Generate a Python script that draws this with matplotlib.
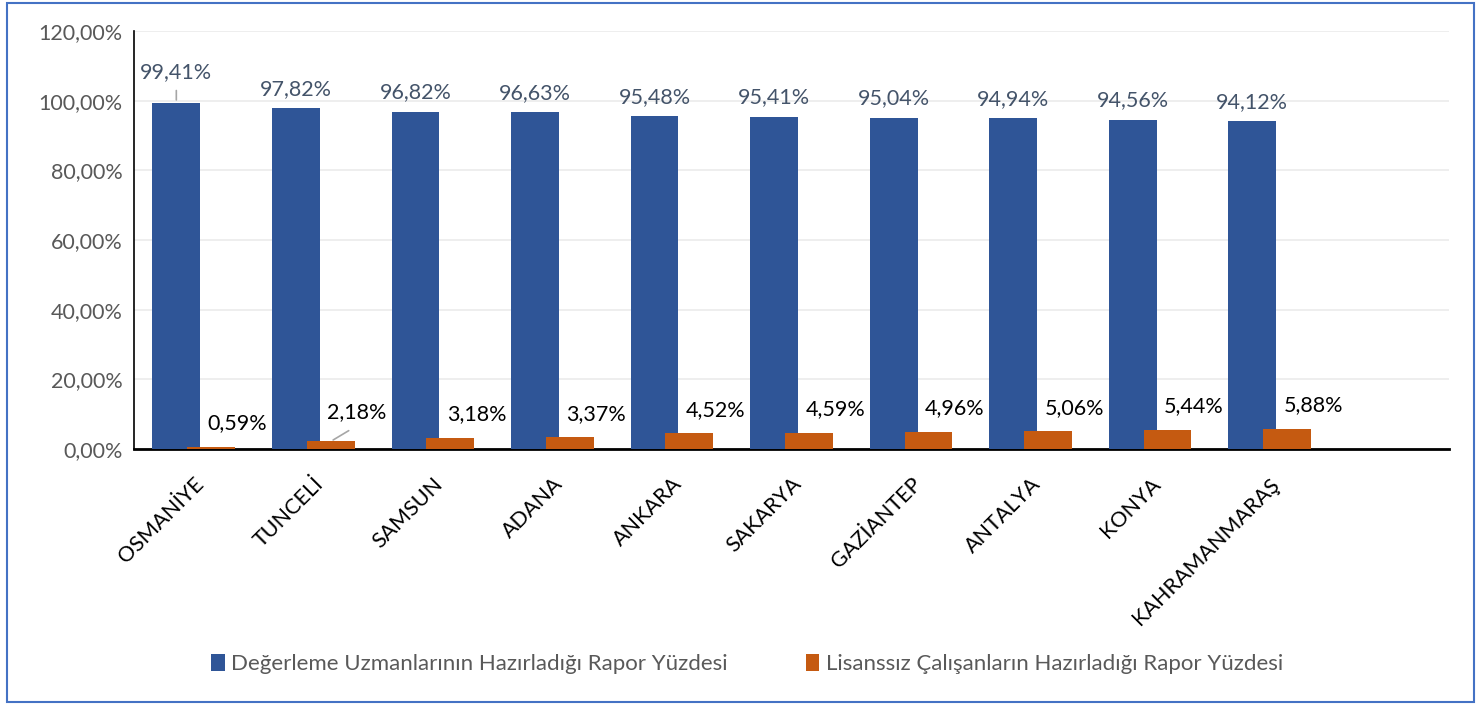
import matplotlib
matplotlib.use("Agg")
import matplotlib.pyplot as plt
from matplotlib.ticker import FuncFormatter
from matplotlib.patches import Rectangle
import numpy as np

plt.rcParams['font.family'] = ['Lato', 'DejaVu Sans']

cities = ["OSMANİYE", "TUNCELİ", "SAMSUN", "ADANA", "ANKARA", "SAKARYA",
          "GAZİANTEP", "ANTALYA", "KONYA", "KAHRAMANMARAŞ"]
uzman = [99.41, 97.82, 96.82, 96.63, 95.48, 95.41, 95.04, 94.94, 94.56, 94.12]
lisanssiz = [0.59, 2.18, 3.18, 3.37, 4.52, 4.59, 4.96, 5.06, 5.44, 5.88]
y_ticks = [0, 20, 40, 60, 80, 100, 120]

label_uzman = "Değerleme Uzmanlarının Hazırladığı Rapor Yüzdesi"
label_lis = "Lisanssız Çalışanların Hazırladığı Rapor Yüzdesi"

BLUE = "#2F5597"
ORANGE = "#C55A11"
GRAY = "#595959"
SLATE = "#44546A"


def pct(v):
    return f"{v:.2f}%".replace(".", ",")


fig = plt.figure(figsize=(14.77, 7.05), dpi=100)
ax = fig.add_axes([134 / 1477, 1 - 449 / 705, 1315 / 1477, 418 / 705])

x = np.arange(len(cities))
off = 0.146
w = 0.4
ax.bar(x - off, uzman, w, color=BLUE, label=label_uzman, zorder=2)
ax.bar(x + off, lisanssiz, w, color=ORANGE, label=label_lis, zorder=3)

# data labels
for i, v in enumerate(uzman):
    dy = 22 if i == 0 else 14
    ax.annotate(pct(v), (x[i] - off, v), xytext=(0, dy), textcoords="offset points",
                ha="center", va="center", fontsize=15.5, color=SLATE)
ax.annotate("", (x[0] - off, uzman[0]), xytext=(x[0] - off, uzman[0] + 4.3),
            arrowprops=dict(arrowstyle="-", color="#A6A6A6", lw=1.2))

for i, v in enumerate(lisanssiz):
    dx = 19
    dy = 21 if i == 1 else 17
    ax.annotate(pct(v), (x[i] + off, v), xytext=(dx, dy), textcoords="offset points",
                ha="center", va="center", fontsize=15.5, color="black")
ax.annotate("", (x[1] + off, lisanssiz[1]), xytext=(x[1] + off + 0.17, lisanssiz[1] + 3.5),
            arrowprops=dict(arrowstyle="-", color="#A6A6A6", lw=1.2))

ax.set_xlim(-0.5, 10.5)
ax.set_ylim(0, 120)
ax.set_yticks(y_ticks)
ax.yaxis.set_major_formatter(FuncFormatter(lambda v, p: pct(v)))
ax.tick_params(axis="y", length=0, labelsize=15.5, labelcolor=GRAY, pad=8)
ax.set_xticks(x)
ax.set_xticklabels(cities, rotation=45, ha="right", rotation_mode="anchor", fontsize=15.5)
ax.tick_params(axis="x", length=0, pad=18)
ax.grid(axis="y", color="#EBEBEB", lw=1.2, zorder=0)
ax.set_axisbelow(True)
for s in ["top", "right"]:
    ax.spines[s].set_visible(False)
ax.spines["left"].set_linewidth(1.2)
ax.spines["bottom"].set_linewidth(2)
ax.spines["bottom"].set_zorder(1)

fig.legend(loc="center", bbox_to_anchor=(747 / 1477, 1 - 664 / 705), ncol=2, frameon=False,
           fontsize=16, labelcolor=GRAY, handlelength=0.6, handleheight=0.8,
           handletextpad=0.3, columnspacing=3.5)

fig.patches.append(Rectangle((7 / 1477, 3 / 705), 1 - 10 / 1477, 1 - 6 / 705,
                             transform=fig.transFigure, fill=False,
                             edgecolor="#4472C4", lw=1.5))

fig.savefig("out.png", dpi=100)
